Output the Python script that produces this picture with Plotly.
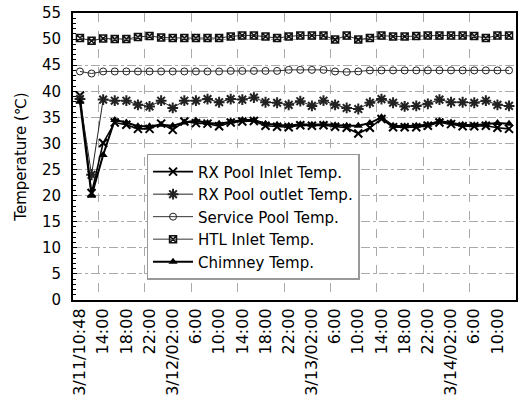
import plotly.graph_objects as go

# Sampling points every 2 hours starting 3/11 10:48
n_points = 38
x_idx = list(range(n_points))

tick_labels = ["3/11/10:48", "14:00", "18:00", "22:00", "3/12/02:00", "6:00", "10:00",
               "14:00", "18:00", "22:00", "3/13/02:00", "6:00", "10:00", "14:00",
               "18:00", "22:00", "3/14/02:00", "6:00", "10:00"]
tick_positions = list(range(0, 37, 2))

rx_inlet = [39.2, 20.5, 30.1, 34.0, 33.6, 32.8, 32.8, 33.8, 32.6, 34.2,
            33.9, 33.8, 33.3, 34.0, 34.2, 34.3, 33.4, 33.2, 33.1, 33.5,
            33.4, 33.5, 33.2, 33.0, 31.9, 33.0, 34.7, 33.1, 33.1, 33.1,
            33.4, 34.0, 33.7, 33.3, 33.3, 33.4, 33.0, 32.8]
rx_outlet = [38.5, 24.0, 38.4, 38.2, 38.2, 37.4, 37.1, 38.2, 36.8, 38.2,
             38.2, 38.5, 37.9, 38.5, 38.4, 38.8, 37.9, 37.8, 37.4, 38.1,
             37.2, 38.2, 37.4, 36.8, 36.6, 37.8, 38.5, 37.8, 37.1, 37.2,
             37.6, 38.4, 37.9, 37.9, 37.8, 38.2, 37.4, 37.2]
service_pool = [43.8, 43.4, 43.8, 43.8, 43.8, 43.8, 43.8, 43.8, 43.8, 43.8,
                43.8, 43.8, 43.8, 43.9, 43.9, 43.9, 43.9, 43.9, 44.1, 44.1,
                44.1, 44.1, 43.8, 43.7, 43.8, 44.0, 44.0, 44.0, 44.0, 44.0,
                44.0, 44.0, 44.0, 44.0, 44.0, 44.0, 44.0, 44.0]
htl_inlet = [50.2, 49.7, 50.1, 50.0, 50.0, 50.4, 50.6, 50.3, 50.2, 50.2,
             50.2, 50.2, 50.2, 50.5, 50.7, 50.7, 50.5, 50.2, 50.5, 50.7,
             50.7, 50.7, 49.9, 50.7, 49.9, 50.2, 50.7, 50.5, 50.5, 50.6,
             50.7, 50.7, 50.7, 50.7, 50.6, 50.2, 50.7, 50.7]
chimney = [38.0, 20.0, 27.8, 34.5, 34.0, 33.3, 33.3, 33.6, 33.4, 34.0,
           34.4, 33.9, 33.8, 34.2, 34.5, 34.5, 33.8, 33.6, 33.4, 33.7,
           33.6, 33.7, 33.5, 33.4, 33.4, 33.9, 35.0, 33.4, 33.3, 33.4,
           33.6, 34.3, 34.0, 33.6, 33.5, 33.7, 33.9, 33.8]

series = [
    ("RX Pool Inlet Temp.", rx_inlet, dict(symbol="x-thin-open", size=8, line=dict(width=2, color="black")), dict(width=1.6, color="black")),
    ("RX Pool outlet Temp.", rx_outlet, dict(symbol="asterisk-open", size=9, line=dict(width=2, color="black")), dict(width=1, color="#222")),
    ("Service Pool Temp.", service_pool, dict(symbol="circle-open", size=7, color="#222", line=dict(width=1, color="#222")), dict(width=1, color="#333")),
    ("HTL Inlet Temp.", htl_inlet, dict(symbol="square-x-open", size=7, color="#111", line=dict(width=1.5, color="#111")), dict(width=1, color="#333")),
    ("Chimney Temp.", chimney, dict(symbol="triangle-up", size=8, color="black", line=dict(width=0)), dict(width=2, color="black")),
]

fig = go.Figure()
for name, vals, marker, line in series:
    fig.add_trace(go.Scatter(x=x_idx, y=vals, name=name, mode="lines+markers",
                             marker=marker, line=line))

fig.update_layout(
    width=522, height=408,
    margin=dict(l=73, r=4, t=13, b=108),
    paper_bgcolor="white", plot_bgcolor="white",
    font=dict(family="DejaVu Sans", color="black"),
    showlegend=True,
    legend=dict(x=0.166, y=0.509, xanchor="left", yanchor="top",
                bgcolor="white", bordercolor="#999", borderwidth=1.5,
                font=dict(family="DejaVu Sans", size=15, color="black"),
                itemwidth=40, tracegroupgap=0),
)

fig.update_xaxes(
    range=[-0.6, 37.6],
    tickmode="array", tickvals=tick_positions, ticktext=tick_labels,
    tickangle=-90, tickfont=dict(family="DejaVu Sans", size=16),
    showgrid=False, zeroline=False,
    showline=True, linecolor="black", linewidth=2, mirror=True,
    ticks="",
    minor=dict(tickmode="linear", tick0=5.6, dtick=4, showgrid=True,
               gridcolor="#aaa", griddash="dash", gridwidth=1),
)
fig.update_yaxes(
    range=[0, 55], tickmode="linear", tick0=0, dtick=5,
    tickfont=dict(family="DejaVu Sans", size=15),
    ticklabelstandoff=7,
    title=dict(text="Temperature (℃)", font=dict(family="DejaVu Sans", size=15), standoff=12),
    showgrid=True, gridcolor="#aaa", griddash="dashdot", gridwidth=1,
    zeroline=False,
    showline=True, linecolor="black", linewidth=2, mirror=True,
    ticks="inside", ticklen=4, tickcolor="black",
    minor=dict(ticks="inside", ticklen=3, dtick=1, tickcolor="black", showgrid=False),
)

fig.write_html("out.html")
